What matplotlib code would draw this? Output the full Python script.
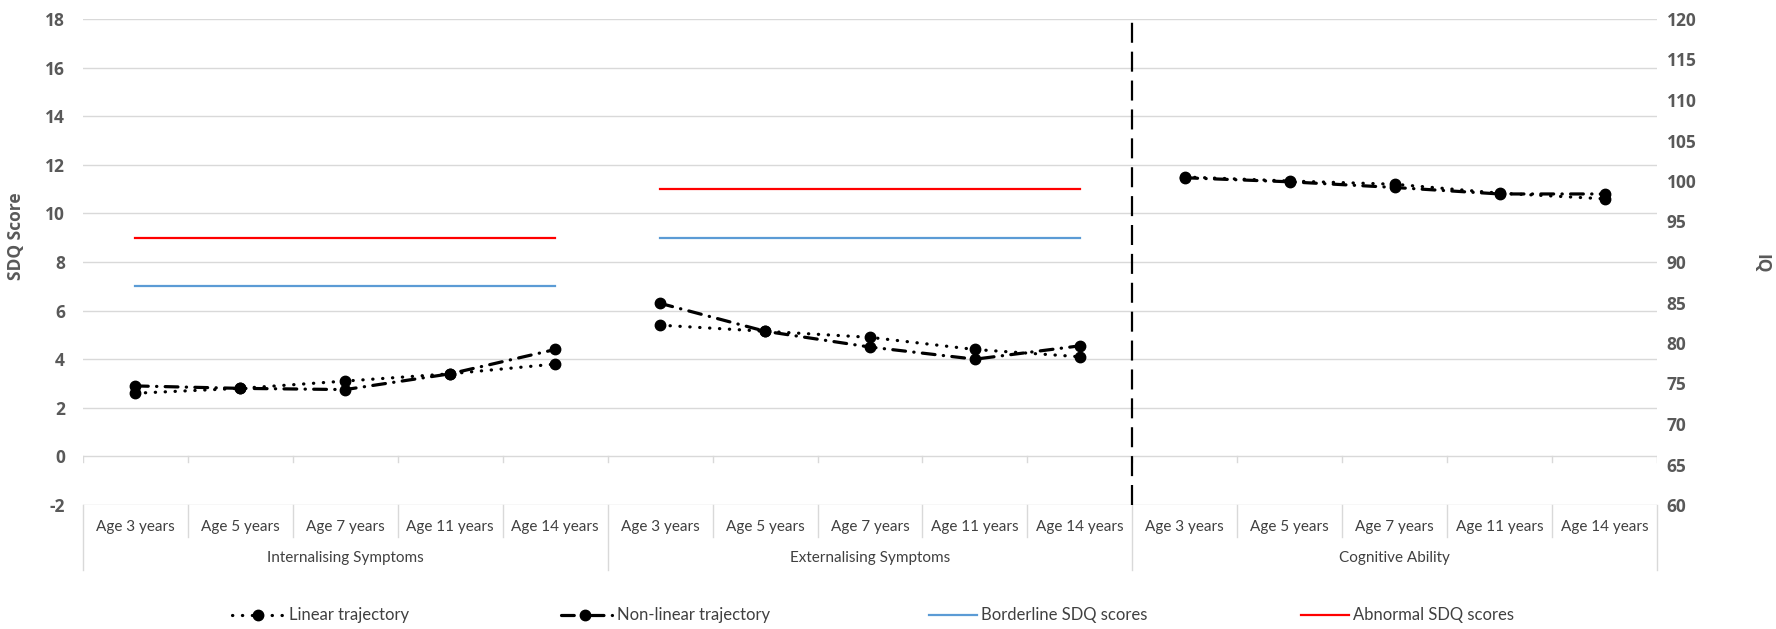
import matplotlib
matplotlib.use("Agg")
import matplotlib.pyplot as plt

plt.rcParams["axes.unicode_minus"] = False

# ---------------- data ----------------
ages = ["Age 3 years", "Age 5 years", "Age 7 years", "Age 11 years", "Age 14 years"]
groups = ["Internalising Symptoms", "Externalising Symptoms", "Cognitive Ability"]

int_linear = [2.6, 2.8, 3.1, 3.4, 3.8]
int_nonlinear = [2.9, 2.8, 2.75, 3.4, 4.4]
ext_linear = [5.4, 5.15, 4.9, 4.4, 4.1]
ext_nonlinear = [6.3, 5.15, 4.5, 4.0, 4.55]
cog_linear = [100.5, 100.0, 99.6, 98.5, 97.8]
cog_nonlinear = [100.4, 99.9, 99.2, 98.4, 98.4]

borderline = [7, 9]      # internalising, externalising
abnormal = [9, 11]

left_ticks = list(range(-2, 19, 2))
right_ticks = list(range(60, 121, 5))

# ---------------- style ----------------
FONT = "Lato"
NUMFONT = "Open Sans"
TICK_C = "#595959"
TXT_C = "#404040"
GRID_C = "#d9d9d9"
BLUE = "#5b9bd5"
RED = "#ff0000"
LW = 2.3
lin_style = dict(color="black", lw=LW, linestyle=(0, (0.1, 3.0)), dash_capstyle="round",
                 marker="o", markersize=7.5, zorder=5)
non_style = dict(color="black", lw=LW, linestyle=(0, (4.0, 2.6, 0.1, 2.6)), dash_capstyle="round",
                 marker="o", markersize=7.5, zorder=5)

W, H = 1776, 629
fig = plt.figure(figsize=(W / 100, H / 100), dpi=100)
x0, x1, ytop, ybot = 83, 1657, 19, 505
ax = fig.add_axes([x0 / W, 1 - ybot / H, (x1 - x0) / W, (ybot - ytop) / H])
ax.set_xlim(-0.5, 14.5)
ax.set_ylim(-2, 18)
ax.set_yticks(left_ticks)
ax.yaxis.grid(True, color=GRID_C, lw=1.0, zorder=0)
ax.set_axisbelow(True)
for s in ax.spines.values():
    s.set_visible(False)
ax.set_xticks([])
ax.tick_params(axis="y", length=0, pad=13, labelsize=12.5, labelcolor=TICK_C)
for lbl in ax.get_yticklabels():
    lbl.set_fontweight("bold")
    lbl.set_fontfamily(NUMFONT)

ax2 = ax.twinx()
ax2.set_ylim(60, 120)
ax2.set_yticks(right_ticks)
for s in ax2.spines.values():
    s.set_visible(False)
ax2.tick_params(axis="y", length=0, pad=7, labelsize=12.5, labelcolor=TICK_C)
for lbl in ax2.get_yticklabels():
    lbl.set_fontweight("bold")
    lbl.set_fontfamily(NUMFONT)

n = len(ages)
xi = list(range(n))
xe = [i + n for i in xi]
xc = [i + 2 * n for i in xi]

# thresholds
ax.plot([xi[0], xi[-1]], [borderline[0]] * 2, color=BLUE, lw=1.6, zorder=3)
ax.plot([xe[0], xe[-1]], [borderline[1]] * 2, color=BLUE, lw=1.6, zorder=3)
ax.plot([xi[0], xi[-1]], [abnormal[0]] * 2, color=RED, lw=1.6, zorder=3)
ax.plot([xe[0], xe[-1]], [abnormal[1]] * 2, color=RED, lw=1.6, zorder=3)

# trajectories
ax.plot(xi, int_linear, **lin_style)
ax.plot(xi, int_nonlinear, **non_style)
ax.plot(xe, ext_linear, **lin_style)
ax.plot(xe, ext_nonlinear, **non_style)
ax2.plot(xc, cog_linear, **lin_style)
ax2.plot(xc, cog_nonlinear, **non_style)

# vertical divider
ax.plot([2 * n - 0.5] * 2, [-2, 18], color="black", lw=1.6, linestyle=(0, (9, 4)), zorder=4)

# small tick marks on the y=0 line
tr = ax.get_xaxis_transform()
px = (ybot - ytop)
for b in range(3 * n + 1):
    xb = b - 0.5
    ax.plot([xb, xb], [0, -0.22], color=GRID_C, lw=1.0, zorder=1)

# multi-level category labels
def ay(pix):
    return -pix / px

for g in range(3):
    for i, a in enumerate(ages):
        ax.text(g * n + i, ay(22), a, transform=tr, ha="center", va="center",
                fontsize=11, color=TXT_C, family=FONT)
    ax.text(g * n + (n - 1) / 2, ay(53), groups[g], transform=tr, ha="center", va="center",
            fontsize=11, color=TXT_C, family=FONT)
for b in range(3 * n + 1):
    xb = b - 0.5
    bottom = ay(65) if b % n == 0 else ay(32)
    ax.plot([xb, xb], [0, bottom], transform=tr, color=GRID_C, lw=1.0, clip_on=False)

# axis titles
fig.text(16 / W, 1 - 236 / H, "SDQ Score", rotation=90, ha="center", va="center",
         fontsize=12.5, fontweight="bold", color=TICK_C, family=NUMFONT)
fig.text(1761 / W, 1 - 264 / H, "IQ", rotation=-90, ha="center", va="center",
         fontsize=12.5, fontweight="bold", color=TICK_C, family=NUMFONT)

# legend (manual, in pixel space)
lg = fig.add_axes([0, 0, 1, 1], zorder=-1)
lg.set_xlim(0, W)
lg.set_ylim(H, 0)
lg.axis("off")
ly = 615
items = [
    ("Linear trajectory", 232, 283, 289, "lin"),
    ("Non-linear trajectory", 561, 612, 617, "non"),
    ("Borderline SDQ scores", 929, 977, 981, BLUE),
    ("Abnormal SDQ scores", 1301, 1349, 1353, RED),
]
for label, a, b, t, kind in items:
    if kind == "lin":
        st = dict(lin_style); st.pop("marker")
        lg.plot([a, b], [ly, ly], **st)
        lg.plot([(a + b) / 2], [ly], "o", color="black", markersize=7.5)
    elif kind == "non":
        st = dict(non_style); st.pop("marker")
        lg.plot([a, b], [ly, ly], **st)
        lg.plot([(a + b) / 2 - 2], [ly], "o", color="black", markersize=7.5)
    else:
        lg.plot([a, b], [ly, ly], color=kind, lw=1.6)
    lg.text(t, ly, label, ha="left", va="center", fontsize=12, color=TXT_C, family=FONT)

fig.savefig("out.png", dpi=100, facecolor="white")
